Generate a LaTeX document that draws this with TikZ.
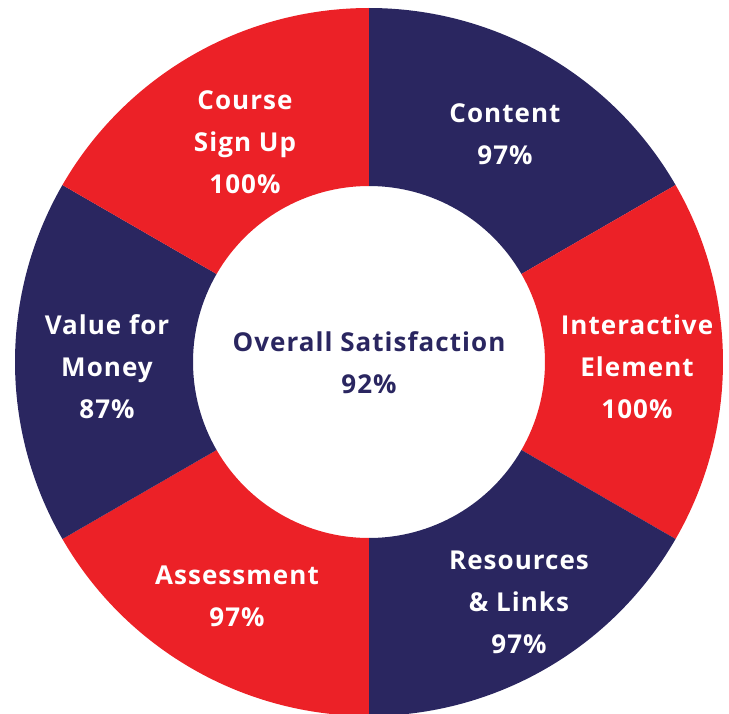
\documentclass[tikz,border=0pt]{standalone}
\usepackage{fontspec}
\setmainfont{Open Sans}[LetterSpace=4]
\definecolor{satred}{RGB}{236,33,39}
\definecolor{satnavy}{RGB}{42,38,96}
\tikzset{seglabel/.style={text=white, align=center, font=\fontsize{26}{42}\selectfont\bfseries}}

\begin{document}
\begin{tikzpicture}[x=1pt,y=1pt]
\useasboundingbox (-369,-351) rectangle (360,362);
% ring segments
\foreach \a/\c in {30/satnavy,-30/satred,-90/satnavy,-150/satred,150/satnavy,90/satred}
\fill[\c] (\a:176) -- (\a:354) arc[start angle=\a, end angle=\a+60, radius=354]
  -- ({\a+60}:176) arc[start angle=\a+60, end angle=\a, radius=176] -- cycle;
% labels
\node[seglabel] (signup) at (-124,220) {Course\\Sign Up\\100\%};
\node[seglabel] (content) at (136,227.5) {Content\\97\%};
\node[seglabel] (interactive) at (268,-5) {Interactive\\Element\\100\%};
\node[seglabel] (resources) at (150,-240) {Resources\\\& Links\\97\%};
\node[seglabel] (assessment) at (-132,-234) {Assessment\\97\%};
\node[seglabel] (value) at (-262,-5) {Value for\\Money\\87\%};
\node[seglabel, text=satnavy] (overall) at (0,-1) {Overall Satisfaction\\92\%};
\end{tikzpicture}
\end{document}
